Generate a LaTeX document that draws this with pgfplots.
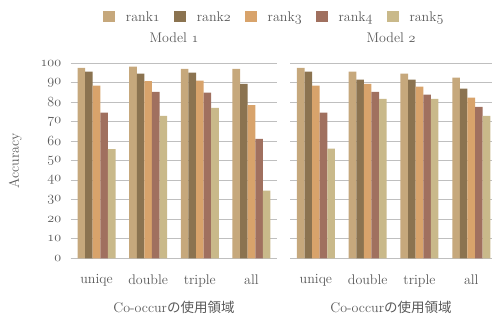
\RequirePackage{fix-cm}
\documentclass[border=0pt]{standalone}
\usepackage{fontspec}
\usepackage{pgfplots}
\pgfplotsset{compat=1.18}
\newfontfamily\cjk{Noto Sans CJK JP}
\definecolor{rA}{HTML}{C6A87C}
\definecolor{rB}{HTML}{8B7350}
\definecolor{rC}{HTML}{D8A36B}
\definecolor{rD}{HTML}{A0705F}
\definecolor{rE}{HTML}{C9B98A}
\definecolor{txt}{HTML}{595959}
\definecolor{grd}{HTML}{BFBFBF}
\newcommand{\osf}[1]{$\mathnormal{#1}$}
\newcommand{\fs}{\fontsize{14}{16}\selectfont}
\pgfplotsset{
  mybars/.style={
    scale only axis, width=206.6pt, height=195pt,
    ybar=0pt, bar width=7.6pt,
    ymin=0, ymax=100, ytick={0,10,...,100},
    xmin=-0.5, xmax=3.5,
    xtick={0,1,2,3}, xticklabels={uniqe,double,triple,all},
    axis y line*=left, y axis line style={draw=none},
    axis x line*=bottom, x axis line style={draw=grd, line width=0.8pt},
    ymajorgrids, grid style={draw=grd, line width=0.8pt},
    major tick length=0pt,
    tick label style={font=\fs, text=txt},
    yticklabel={\osf{\pgfmathprintnumber{\tick}}},
    yticklabel style={xshift=-6pt},
    xticklabel style={yshift=-13pt},
    label style={font=\fs, text=txt},
    title style={font=\fs, text=txt, yshift=11pt},
    xlabel={Co-occur{\cjk\fontsize{13.5}{16}\selectfont の使用領域}},
    xlabel style={yshift=-7pt},
    every axis plot/.append style={draw=none},
  }
}
\pgfplotstableread{
x r1 r2 r3 r4 r5
0 97.7 95.7 88.5 74.7 56.0
1 98.3 94.7 90.8 85.4 73.1
2 97.2 95.2 91.1 84.9 77.2
3 97.2 89.5 78.6 61.3 34.7
}\modelA
\pgfplotstableread{
x r1 r2 r3 r4 r5
0 97.7 95.7 88.5 74.7 56.2
1 95.7 91.6 89.5 85.4 81.8
2 94.7 91.6 88.0 83.9 81.8
3 92.6 87.0 82.4 77.7 73.1
}\modelB
\begin{document}
\begin{tikzpicture}
\path[use as bounding box] (-70.7pt,-59.7pt) rectangle (421.3pt,258.3pt);
\begin{axis}[mybars, at={(0pt,0pt)}, anchor=south west,
  title={Model \osf{1}},
  ylabel={Accuracy}, ylabel style={yshift=12pt},
  legend columns=5,
  legend style={at={(0.985,1.236)}, anchor=center, draw=none, fill=none,
    font=\fs, text=txt,
    /tikz/every odd column/.append style={column sep=9pt},
    /tikz/every even column/.append style={column sep=12pt}},
  legend image code/.code={\fill[#1] (0pt,-5pt) rectangle (12pt,6pt);},
]
\addplot[fill=rA] table[x=x,y=r1]{\modelA};
\addplot[fill=rB] table[x=x,y=r2]{\modelA};
\addplot[fill=rC] table[x=x,y=r3]{\modelA};
\addplot[fill=rD] table[x=x,y=r4]{\modelA};
\addplot[fill=rE] table[x=x,y=r5]{\modelA};
\legend{rank\osf{1},rank\osf{2},rank\osf{3},rank\osf{4},rank\osf{5}}
\end{axis}
\begin{axis}[mybars, at={(219.3pt,0pt)}, anchor=south west,
  width=202pt, xmax=3.4,
  title={Model \osf{2}},
  yticklabels={},
]
\addplot[fill=rA] table[x=x,y=r1]{\modelB};
\addplot[fill=rB] table[x=x,y=r2]{\modelB};
\addplot[fill=rC] table[x=x,y=r3]{\modelB};
\addplot[fill=rD] table[x=x,y=r4]{\modelB};
\addplot[fill=rE] table[x=x,y=r5]{\modelB};
\end{axis}
\end{tikzpicture}
\end{document}
